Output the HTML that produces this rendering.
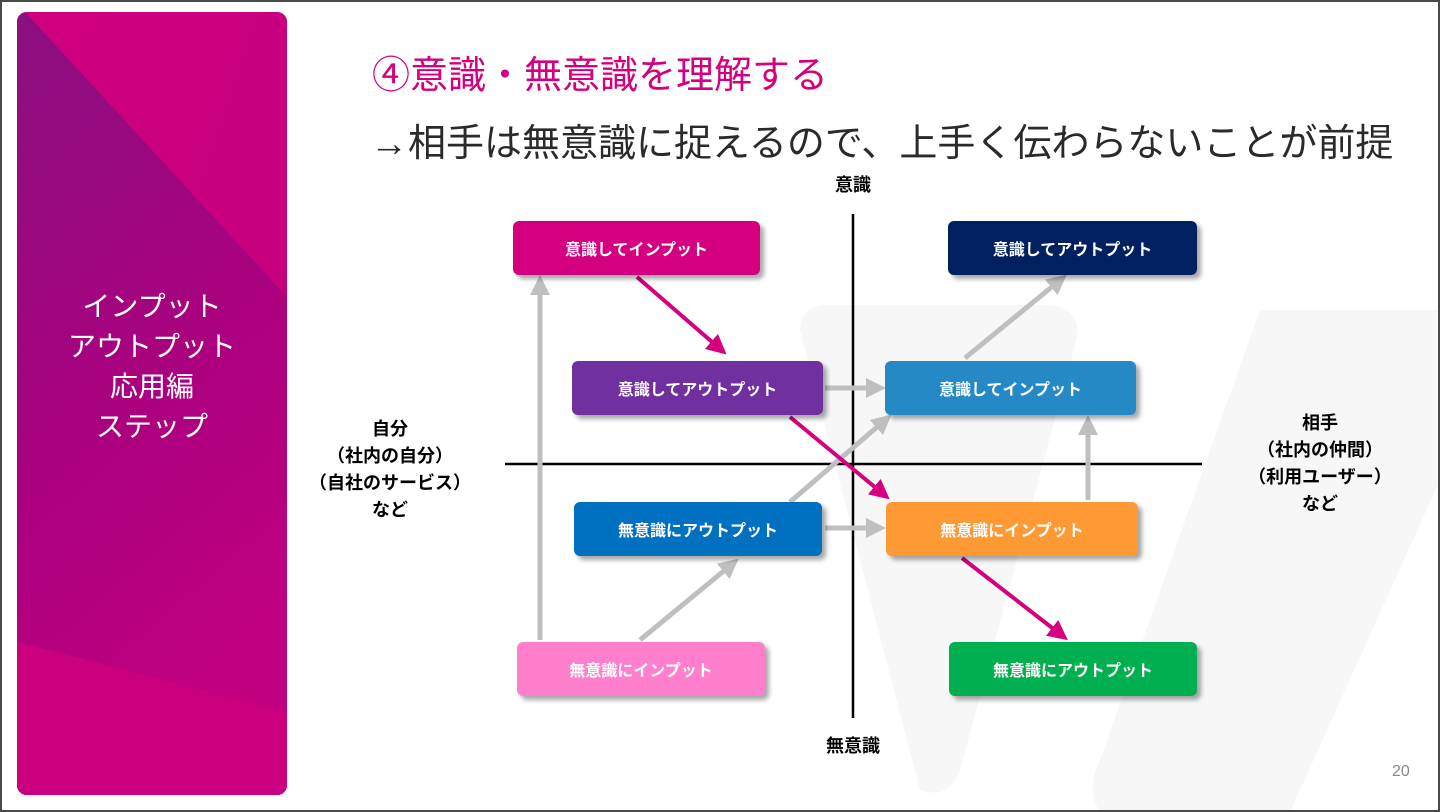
<!DOCTYPE html>
<html><head><meta charset="utf-8"><style>
html,body{margin:0;width:1440px;height:812px;overflow:hidden;}
body{position:relative;background:#fff;font-family:"Liberation Sans","Noto Sans CJK JP",sans-serif;}
.frame{position:absolute;left:0;top:0;width:1440px;height:812px;box-sizing:border-box;border:2px solid #4a4a4a;}
.panel{position:absolute;left:17px;top:12px;width:270px;height:783px;border-radius:10px;overflow:hidden;background:#c6007f;}
.ptxt{position:absolute;left:0;width:270px;top:275px;text-align:center;color:#fff;font-size:28px;line-height:40px;}
.t1{position:absolute;left:372px;top:44px;font-size:38px;color:#d4007f;white-space:nowrap;}
.t2{position:absolute;left:370px;top:112px;font-size:38px;color:#2a2a2a;white-space:nowrap;}
.box{position:absolute;height:54px;border-radius:6px;color:#fff;font-weight:bold;font-size:16px;display:flex;align-items:center;justify-content:center;box-shadow:4px 4px 5px rgba(0,0,0,.35);}
.lab{position:absolute;font-weight:bold;font-size:18px;text-align:center;line-height:27px;color:#000;white-space:nowrap;}
.pn{position:absolute;left:1392px;top:763px;color:#888;font-size:16px;}
</style></head><body>
<svg width="1440" height="812" style="position:absolute;left:0;top:0">
<path d="M800,330 Q800,305 830,305 L1050,305 Q1085,310 1075,345 L960,770 Q950,800 920,790 Z" fill="#f7f7f7"/>
<path d="M1260,310 L1440,310 L1440,480 L1290,812 L1100,812 Q1085,790 1100,760 Z" fill="#f7f7f7"/>
</svg>
<div class="panel">
<svg width="270" height="783" style="position:absolute;left:0;top:0">
<defs>
<linearGradient id="pg" x1="0" y1="0" x2="0.3" y2="1"><stop offset="0" stop-color="#8a1080"/><stop offset="0.6" stop-color="#ac007f"/><stop offset="1" stop-color="#c0007f"/></linearGradient>
<linearGradient id="mg" x1="0" y1="0" x2="1" y2="1"><stop offset="0" stop-color="#d0007f"/><stop offset="1" stop-color="#c0007f"/></linearGradient>
</defs>
<rect width="270" height="783" fill="url(#mg)"/>
<polygon points="0,0 8,0 270,285 270,783 0,783" fill="url(#pg)"/>
<polygon points="0,630 270,700 270,783 0,783" fill="#cc007f" opacity="0.9"/>
</svg>
<div class="ptxt">インプット<br>アウトプット<br>応用編<br>ステップ</div>
</div>
<div class="t1">④意識・無意識を理解する</div>
<div class="t2">→相手は無意識に捉えるので、上手く伝わらないことが前提</div>
<svg width="1440" height="812" style="position:absolute;left:0;top:0">
<defs>
<marker id="g" markerWidth="4" markerHeight="4" refX="2" refY="2" orient="auto" markerUnits="strokeWidth"><path d="M0,0 L4,2 L0,4 Z" fill="#bfbfbf"/></marker>
<marker id="m" markerWidth="5" markerHeight="5" refX="2.5" refY="2.5" orient="auto" markerUnits="strokeWidth"><path d="M0,0 L5,2.5 L0,5 Z" fill="#d4007f"/></marker>
</defs>
<line x1="853" y1="214" x2="853" y2="718" stroke="#000" stroke-width="2.5"/>
<line x1="505" y1="464" x2="1202" y2="464" stroke="#000" stroke-width="2.5"/>
<g stroke="#bfbfbf" stroke-width="5" fill="none" marker-end="url(#g)">
<line x1="540" y1="640" x2="540" y2="285"/>
<line x1="640" y1="640" x2="731" y2="565"/>
<line x1="790" y1="502" x2="884" y2="421"/>
<line x1="825" y1="388" x2="876" y2="388"/>
<line x1="825" y1="528" x2="876" y2="528"/>
<line x1="1088" y1="500" x2="1088" y2="425"/>
<line x1="965" y1="358" x2="1059" y2="281"/>
</g>
<g stroke="#d4007f" stroke-width="4" fill="none" marker-end="url(#m)">
<line x1="637" y1="277" x2="719" y2="348"/>
<line x1="790" y1="417" x2="882" y2="493"/>
<line x1="962" y1="558" x2="1060" y2="634"/>
</g>
</svg>
<div class="box" style="left:513px;top:221px;width:247px;background:#d5007f">意識してインプット</div>
<div class="box" style="left:948px;top:221px;width:249px;background:#002060">意識してアウトプット</div>
<div class="box" style="left:572px;top:361px;width:251px;background:#7030a0">意識してアウトプット</div>
<div class="box" style="left:885px;top:361px;width:251px;background:#2589c6">意識してインプット</div>
<div class="box" style="left:574px;top:502px;width:248px;background:#0070c0">無意識にアウトプット</div>
<div class="box" style="left:886px;top:502px;width:252px;background:#ff9933">無意識にインプット</div>
<div class="box" style="left:517px;top:642px;width:248px;background:#ff7fcc">無意識にインプット</div>
<div class="box" style="left:949px;top:642px;width:248px;background:#00b050">無意識にアウトプット</div>
<div class="lab" style="left:823px;top:172px;width:60px">意識</div>
<div class="lab" style="left:813px;top:733px;width:80px">無意識</div>
<div class="lab" style="left:290px;top:416px;width:200px">自分<br>（社内の自分）<br>（自社のサービス）<br>など</div>
<div class="lab" style="left:1220px;top:410px;width:200px">相手<br>（社内の仲間）<br>（利用ユーザー）<br>など</div>
<div class="pn">20</div>
<div class="frame"></div>
</body></html>
